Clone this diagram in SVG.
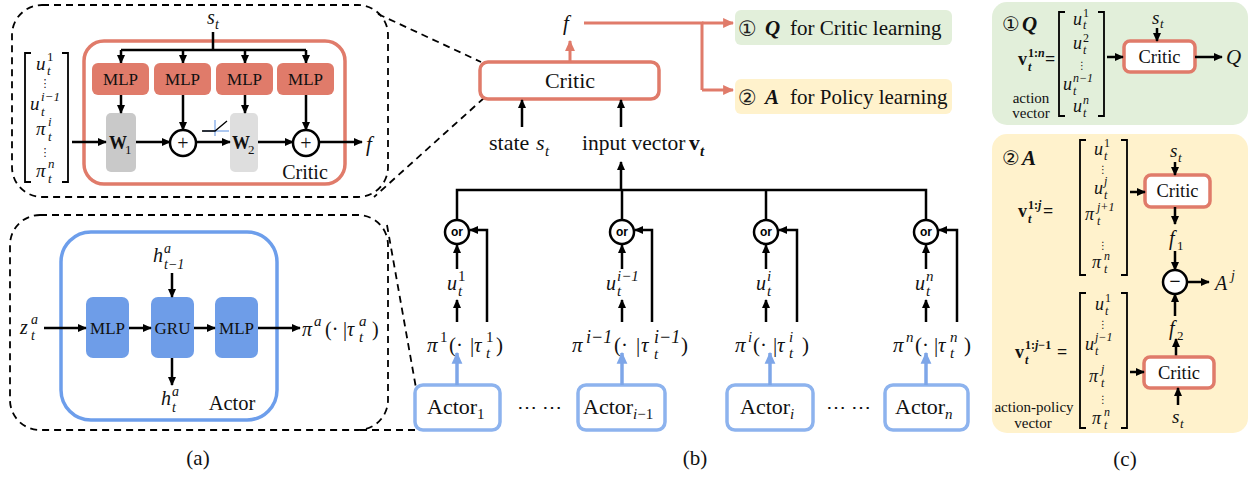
<svg xmlns="http://www.w3.org/2000/svg" width="1250" height="478" viewBox="0 0 1250 478">
<style>
.t{font-family:"Liberation Serif","Times New Roman",serif;fill:#111}
.i{font-style:italic}
.b{font-weight:bold}
.c{text-anchor:middle}
.dots{font-family:"DejaVu Sans",sans-serif;fill:#111;text-anchor:middle}
.ar{stroke:#000;stroke-width:2.5;fill:none;marker-end:url(#ab)}
.ln{stroke:#000;stroke-width:2.5;fill:none}
.dash{stroke:#000;stroke-width:1.8;fill:none;stroke-dasharray:7 5}
.brk{stroke:#000;stroke-width:1.8;fill:none}
.crit{fill:#fff;stroke:#E07B6A;stroke-width:3.5}
.mlpr{fill:#E07B6A}
.mlpb{fill:#6E9DE8}
.actb{fill:#fff;stroke:#8DB3EE;stroke-width:3.5}
.sal{stroke:#E07B6A;stroke-width:3;fill:none}
.salar{stroke:#E07B6A;stroke-width:3;fill:none;marker-end:url(#as)}
.blar{stroke:#7EA6E8;stroke-width:3.5;fill:none;marker-end:url(#abl)}
.circ{fill:#fff;stroke:#000;stroke-width:2.5}
.or{font-family:"Liberation Sans",Arial,sans-serif;font-weight:bold;font-size:12px;text-anchor:middle;fill:#000}
</style>
<defs>
<marker id="ab" viewBox="0 0 10 10" refX="9" refY="5" markerWidth="9" markerHeight="9" markerUnits="userSpaceOnUse" orient="auto"><path d="M0,0.5L10,5L0,9.5z" fill="#000"/></marker>
<marker id="as" viewBox="0 0 10 10" refX="9" refY="5" markerWidth="11" markerHeight="11" markerUnits="userSpaceOnUse" orient="auto"><path d="M0,0.5L10,5L0,9.5z" fill="#E07B6A"/></marker>
<marker id="abl" viewBox="0 0 10 10" refX="9" refY="5" markerWidth="12" markerHeight="12" markerUnits="userSpaceOnUse" orient="auto"><path d="M0,0.5L10,5L0,9.5z" fill="#7EA6E8"/></marker>
</defs>
<rect width="1250" height="478" fill="#fff"/>

<!-- ============ (a) top: critic detail ============ -->
<g id="a-critic-detail">
<rect class="dash" x="12" y="5" width="376" height="192" rx="30"/>
<path class="brk" d="M31,53H25V182H31M62,53H68V182H62"/>
<text class="t i" font-size="19" x="36" y="70">u</text>
<text class="t" font-size="13" x="47" y="61">1</text>
<text class="t i" font-size="13" x="47" y="75">t</text>
<text class="dots" font-size="11" x="45" y="87">⋮</text>
<text class="t i" font-size="19" x="30" y="110">u</text>
<text class="t i" font-size="13" x="41" y="101">i−1</text>
<text class="t i" font-size="13" x="41" y="116">t</text>
<text class="t i" font-size="19" x="36" y="135">π</text>
<text class="t i" font-size="13" x="48" y="126">i</text>
<text class="t i" font-size="13" x="48" y="141">t</text>
<text class="dots" font-size="11" x="45" y="156">⋮</text>
<text class="t i" font-size="19" x="36" y="177">π</text>
<text class="t i" font-size="13" x="48" y="168">n</text>
<text class="t i" font-size="13" x="48" y="183">t</text>

<rect x="84" y="41" width="261" height="143" rx="20" fill="none" stroke="#E07B6A" stroke-width="3.5"/>
<text class="t i" font-size="20" x="207" y="24">s</text>
<text class="t i" font-size="14" x="215" y="29">t</text>
<path class="ln" d="M213,32V50M121,50H306"/>
<line class="ar" x1="121" y1="50" x2="121" y2="63"/>
<line class="ar" x1="183" y1="50" x2="183" y2="63"/>
<line class="ar" x1="245" y1="50" x2="245" y2="63"/>
<line class="ar" x1="306" y1="50" x2="306" y2="63"/>
<g id="a-mlp1"><rect class="mlpr" x="92" y="63" width="57" height="32" rx="6"/><text class="t c" font-size="17" x="120.5" y="85">MLP</text></g>
<g id="a-mlp2"><rect class="mlpr" x="154" y="63" width="57" height="32" rx="6"/><text class="t c" font-size="17" x="182.5" y="85">MLP</text></g>
<g id="a-mlp3"><rect class="mlpr" x="216" y="63" width="57" height="32" rx="6"/><text class="t c" font-size="17" x="244.5" y="85">MLP</text></g>
<g id="a-mlp4"><rect class="mlpr" x="277" y="63" width="57" height="32" rx="6"/><text class="t c" font-size="17" x="305.5" y="85">MLP</text></g>
<g id="a-w1"><rect x="106" y="113" width="30" height="59" rx="5" fill="#C9C9C9"/><text class="t b" font-size="18" x="109" y="149">W</text><text class="t" font-size="13" x="125" y="154">1</text></g>
<g id="a-w2"><rect x="230" y="113" width="28" height="59" rx="5" fill="#DEDEDE"/><text class="t b" font-size="18" x="232" y="149">W</text><text class="t" font-size="13" x="248" y="154">2</text></g>
<g id="a-plus1"><circle class="circ" cx="183" cy="143" r="13"/><text class="t c" font-size="20" x="183" y="150">+</text></g>
<g id="a-plus2"><circle class="circ" cx="306" cy="143" r="13"/><text class="t c" font-size="20" x="306" y="150">+</text></g>
<line class="ar" x1="72" y1="142" x2="106" y2="142"/>
<line class="ar" x1="121" y1="95" x2="121" y2="113"/>
<line class="ar" x1="136" y1="142" x2="170" y2="142"/>
<line class="ar" x1="183" y1="95" x2="183" y2="130"/>
<line class="ar" x1="196" y1="142" x2="230" y2="142"/>
<line class="ar" x1="245" y1="95" x2="245" y2="113"/>
<line class="ar" x1="258" y1="142" x2="293" y2="142"/>
<line class="ar" x1="306" y1="95" x2="306" y2="130"/>
<line class="ar" x1="319" y1="142" x2="362" y2="142"/>
<g id="a-relu">
<path d="M215,120V136M203,131H229" stroke="#5B8FE0" stroke-width="1" fill="none"/>
<path d="M202,131H215L227,121" stroke="#000" stroke-width="1.3" fill="none"/>
</g>
<text class="t i" font-size="21" x="366" y="151">f</text>
<text class="t c" font-size="20" x="305" y="179">Critic</text>
</g>

<!-- ============ (a) bottom: actor detail ============ -->
<g id="a-actor-detail">
<rect class="dash" x="10" y="215" width="378" height="215" rx="30"/>
<rect x="61" y="232" width="216" height="188" rx="30" fill="none" stroke="#6D9EEB" stroke-width="3.5"/>
<g id="a-amlp1"><rect class="mlpb" x="86" y="297" width="43" height="61" rx="7"/><text class="t c" font-size="17" x="107.5" y="334">MLP</text></g>
<g id="a-gru"><rect class="mlpb" x="151" y="297" width="43" height="61" rx="7"/><text class="t c" font-size="17" x="172.5" y="334">GRU</text></g>
<g id="a-amlp2"><rect class="mlpb" x="215" y="297" width="43" height="61" rx="7"/><text class="t c" font-size="17" x="236.5" y="334">MLP</text></g>
<text class="t i" font-size="20" x="20" y="334">z</text>
<text class="t i" font-size="14" x="31" y="324">a</text>
<text class="t i" font-size="14" x="31" y="340">t</text>
<line class="ar" x1="44" y1="328" x2="86" y2="328"/>
<line class="ar" x1="129" y1="328" x2="151" y2="328"/>
<line class="ar" x1="194" y1="328" x2="215" y2="328"/>
<line class="ar" x1="258" y1="328" x2="300" y2="328"/>
<text class="t i" font-size="20" x="153" y="262">h</text>
<text class="t i" font-size="14" x="164" y="253">a</text>
<text class="t i" font-size="14" x="164" y="269">t−1</text>
<line class="ar" x1="172" y1="273" x2="172" y2="297"/>
<line class="ar" x1="172" y1="358" x2="172" y2="385"/>
<text class="t i" font-size="20" x="161" y="405">h</text>
<text class="t i" font-size="14" x="172" y="396">a</text>
<text class="t i" font-size="14" x="172" y="412">t</text>
<text class="t" font-size="20"><tspan class="i" x="302" y="336">π</tspan><tspan class="i" font-size="15" x="314" y="326">a</tspan><tspan x="325" y="336">(·</tspan><tspan x="343" y="336">|</tspan><tspan class="i" x="347" y="336">τ</tspan><tspan class="i" font-size="15" x="359" y="326">a</tspan><tspan class="i" font-size="15" x="359" y="342">t</tspan><tspan x="372" y="336">)</tspan></text>
<text class="t c" font-size="20.5" x="232" y="410">Actor</text>
</g>

<!-- dashed zoom guides -->
<g id="guides">
<line class="dash" x1="378" y1="14" x2="481" y2="62"/>
<line class="dash" x1="484" y1="98" x2="374" y2="197"/>
<line class="dash" x1="387" y1="225" x2="416" y2="388"/>
<line class="dash" x1="360" y1="430" x2="416" y2="430"/>
</g>

<!-- ============ (b) ============ -->
<g id="b-critic"><rect class="crit" x="480" y="62" width="179" height="37" rx="8"/><text class="t c" font-size="22" x="570" y="88">Critic</text></g>
<g id="b-q-box"><rect x="735" y="10" width="217" height="35" rx="6" fill="#E2EFDA"/>
<text font-family="DejaVu Sans,sans-serif" font-size="21" x="738" y="36" fill="#222">①</text>
<text class="t i b" font-size="21" x="765" y="35">Q</text>
<text class="t" font-size="21" x="790" y="35">for Critic learning</text></g>
<g id="b-a-box"><rect x="735" y="79" width="217" height="35" rx="6" fill="#FFF2CC"/>
<text font-family="DejaVu Sans,sans-serif" font-size="21" x="738" y="105" fill="#222">②</text>
<text class="t i b" font-size="21" x="765" y="104">A</text>
<text class="t" font-size="21" x="790" y="104">for Policy learning</text></g>
<text class="t i" font-size="21" x="563" y="30">f</text>
<text class="t" font-size="22" x="489" y="150">state</text>
<text class="t i" font-size="22" x="536" y="150">s</text>
<text class="t i" font-size="15" x="545" y="156">t</text>
<text class="t" font-size="21.5" x="582" y="150">input vector</text>
<text class="t b" font-size="21.5" x="689" y="150">v</text>
<text class="t i b" font-size="15" x="700" y="156">t</text>

<g id="b-or1"><circle class="circ" cx="457" cy="232" r="12"/><text class="or" x="457" y="236">or</text></g>
<g id="b-or2"><circle class="circ" cx="622" cy="232" r="12"/><text class="or" x="622" y="236">or</text></g>
<g id="b-or3"><circle class="circ" cx="766" cy="232" r="12"/><text class="or" x="766" y="236">or</text></g>
<g id="b-or4"><circle class="circ" cx="926" cy="232" r="12"/><text class="or" x="926" y="236">or</text></g>

<g id="b-actor1"><rect class="actb" x="415" y="385" width="85" height="45" rx="8"/><text class="t" font-size="22" x="427" y="414">Actor<tspan font-size="15" dy="5">1</tspan></text></g>
<g id="b-actor-im1"><rect class="actb" x="578" y="385" width="87" height="45" rx="8"/><text class="t" font-size="22" x="583" y="414">Actor<tspan class="i" font-size="15" dy="5">i</tspan><tspan font-size="15">−1</tspan></text></g>
<g id="b-actor-i"><rect class="actb" x="727" y="385" width="86" height="45" rx="8"/><text class="t" font-size="22" x="740" y="414">Actor<tspan class="i" font-size="15" dy="5">i</tspan></text></g>
<g id="b-actor-n"><rect class="actb" x="885" y="385" width="83" height="45" rx="8"/><text class="t" font-size="22" x="895" y="414">Actor<tspan class="i" font-size="15" dy="5">n</tspan></text></g>
<text class="t c" font-size="20" x="539" y="414">⋯ ⋯</text>
<text class="t c" font-size="20" x="848" y="414">⋯ ⋯</text>

<!-- u labels -->
<text class="t i" font-size="20" x="447" y="290">u</text><text class="t" font-size="15" x="458" y="281">1</text><text class="t i" font-size="15" x="458" y="296">t</text>
<text class="t i" font-size="20" x="606" y="290">u</text><text class="t i" font-size="15" x="617" y="281">i−1</text><text class="t i" font-size="15" x="617" y="296">t</text>
<text class="t i" font-size="20" x="756" y="290">u</text><text class="t i" font-size="15" x="767" y="281">i</text><text class="t i" font-size="15" x="767" y="296">t</text>
<text class="t i" font-size="20" x="915" y="290">u</text><text class="t i" font-size="15" x="926" y="281">n</text><text class="t i" font-size="15" x="926" y="296">t</text>

<!-- pi labels -->
<text class="t" font-size="21"><tspan class="i" x="427" y="352">π</tspan><tspan font-size="15" x="440" y="342">1</tspan><tspan x="449" y="352">(·</tspan><tspan x="470" y="352">|</tspan><tspan class="i" x="474" y="352">τ</tspan><tspan font-size="15" x="486" y="342">1</tspan><tspan class="i" font-size="15" x="486" y="358">t</tspan><tspan x="496" y="352">)</tspan></text>
<text class="t" font-size="21"><tspan class="i" x="572" y="352">π</tspan><tspan class="i" font-size="18" x="586" y="343">i−1</tspan><tspan x="614" y="352">(·</tspan><tspan x="636" y="352">|</tspan><tspan class="i" x="641" y="352">τ</tspan><tspan class="i" font-size="18" x="654" y="343">i−1</tspan><tspan class="i" font-size="15" x="654" y="359">t</tspan><tspan x="681" y="352">)</tspan></text>
<text class="t" font-size="21"><tspan class="i" x="735" y="352">π</tspan><tspan class="i" font-size="15" x="748" y="342">i</tspan><tspan x="753" y="352">(·</tspan><tspan x="773" y="352">|</tspan><tspan class="i" x="777" y="352">τ</tspan><tspan class="i" font-size="15" x="789" y="342">i</tspan><tspan class="i" font-size="15" x="789" y="358">t</tspan><tspan x="802" y="352">)</tspan></text>
<text class="t" font-size="21"><tspan class="i" x="893" y="352">π</tspan><tspan class="i" font-size="15" x="906" y="342">n</tspan><tspan x="915" y="352">(·</tspan><tspan x="934" y="352">|</tspan><tspan class="i" x="938" y="352">τ</tspan><tspan class="i" font-size="15" x="950" y="342">n</tspan><tspan class="i" font-size="15" x="950" y="358">t</tspan><tspan x="964" y="352">)</tspan></text>

<g id="b-connectors">
<line class="salar" x1="570" y1="62" x2="570" y2="41"/>
<path class="sal" d="M584,23H702V90"/>
<line class="salar" x1="702" y1="23" x2="733" y2="23"/>
<line class="salar" x1="702" y1="90" x2="733" y2="90"/>
<line class="ar" x1="522" y1="127" x2="522" y2="100"/>
<line class="ar" x1="621" y1="127" x2="621" y2="100"/>
<line class="ar" x1="621" y1="190" x2="621" y2="162"/>
<path class="ln" d="M457,220V190H926V220M622,190V220M766,190V220"/>
<path class="ar" d="M487,322V230H470"/>
<path class="ar" d="M652,322V230H635"/>
<path class="ar" d="M797,322V230H779"/>
<path class="ar" d="M957,322V230H939"/>
<line class="ar" x1="457" y1="269" x2="457" y2="245"/>
<line class="ar" x1="622" y1="269" x2="622" y2="245"/>
<line class="ar" x1="766" y1="269" x2="766" y2="245"/>
<line class="ar" x1="926" y1="269" x2="926" y2="245"/>
<line class="ar" x1="457" y1="322" x2="457" y2="300"/>
<line class="ar" x1="622" y1="322" x2="622" y2="300"/>
<line class="ar" x1="766" y1="322" x2="766" y2="300"/>
<line class="ar" x1="926" y1="322" x2="926" y2="300"/>
<line class="blar" x1="457" y1="385" x2="457" y2="353"/>
<line class="blar" x1="622" y1="385" x2="622" y2="353"/>
<line class="blar" x1="770" y1="385" x2="770" y2="353"/>
<line class="blar" x1="926" y1="385" x2="926" y2="353"/>
</g>

<!-- ============ (c) ============ -->
<g id="c-q-panel">
<rect x="992" y="2" width="256" height="123" rx="15" fill="#E2EFDA"/>
<text font-family="DejaVu Sans,sans-serif" font-size="20" x="1002" y="31" fill="#111">①</text>
<text class="t i b" font-size="21" x="1022" y="31">Q</text>
<text class="t b" font-size="18" x="1018" y="65">v</text>
<text class="t b" font-size="12" x="1028" y="57">1:<tspan class="i">n</tspan></text>
<text class="t b i" font-size="12" x="1028" y="71">t</text>
<text class="t b" font-size="18" x="1045" y="65">=</text>
<text class="t c" font-size="15" x="1031" y="103">action</text>
<text class="t c" font-size="15" x="1031" y="118">vector</text>
<path class="brk" d="M1065,12H1059V116H1065M1098,12H1104V116H1098"/>
<text class="t i" font-size="18" x="1073" y="25">u</text><text class="t" font-size="12" x="1083" y="17">1</text><text class="t i" font-size="12" x="1083" y="29">t</text>
<text class="t i" font-size="18" x="1073" y="49">u</text><text class="t" font-size="12" x="1083" y="42">2</text><text class="t i" font-size="12" x="1083" y="54">t</text>
<text class="dots" font-size="10" x="1082" y="69">⋮</text>
<text class="t i" font-size="18" x="1063" y="90">u</text><text class="t i" font-size="12" x="1073" y="82">n−1</text><text class="t i" font-size="12" x="1073" y="95">t</text>
<text class="t i" font-size="18" x="1073" y="112">u</text><text class="t i" font-size="12" x="1083" y="104">n</text><text class="t i" font-size="12" x="1083" y="117">t</text>
<g id="c-critic-q"><rect class="crit" x="1124" y="41" width="71" height="31" rx="6"/><text class="t c" font-size="18.5" x="1159.5" y="63">Critic</text></g>
<text class="t i" font-size="19" x="1152" y="24">s</text><text class="t i" font-size="13" x="1160" y="28">t</text>
<line class="ar" x1="1157" y1="28" x2="1157" y2="41"/>
<line class="ar" x1="1107" y1="57" x2="1123" y2="57"/>
<line class="ar" x1="1195" y1="57" x2="1222" y2="57"/>
<text class="t i" font-size="21" x="1226" y="64">Q</text>
</g>

<g id="c-a-panel">
<rect x="992" y="134" width="256" height="299" rx="15" fill="#FFF2CC"/>
<text font-family="DejaVu Sans,sans-serif" font-size="20" x="1002" y="165" fill="#111">②</text>
<text class="t i b" font-size="21" x="1022" y="165">A</text>
<text class="t b" font-size="18" x="1018" y="217">v</text>
<text class="t b" font-size="12" x="1028" y="209">1:<tspan class="i">j</tspan></text>
<text class="t b i" font-size="12" x="1028" y="223">t</text>
<text class="t b" font-size="18" x="1043" y="217">=</text>
<path class="brk" d="M1086,140H1080V275H1086M1121,140H1127V275H1121"/>
<text class="t i" font-size="18" x="1094" y="155">u</text><text class="t" font-size="12" x="1104" y="147">1</text><text class="t i" font-size="12" x="1104" y="160">t</text>
<text class="dots" font-size="10" x="1103" y="173">⋮</text>
<text class="t i" font-size="18" x="1094" y="194">u</text><text class="t i" font-size="12" x="1104" y="185">j</text><text class="t i" font-size="12" x="1104" y="199">t</text>
<text class="t i" font-size="18" x="1085" y="220">π</text><text class="t i" font-size="12" x="1097" y="211">j+1</text><text class="t i" font-size="12" x="1097" y="225">t</text>
<text class="dots" font-size="10" x="1103" y="249">⋮</text>
<text class="t i" font-size="18" x="1092" y="268">π</text><text class="t i" font-size="12" x="1104" y="260">n</text><text class="t i" font-size="12" x="1104" y="273">t</text>
<g id="c-critic-a1"><rect class="crit" x="1145" y="175" width="65" height="32" rx="6"/><text class="t c" font-size="18.5" x="1177.5" y="197">Critic</text></g>
<text class="t i" font-size="19" x="1170" y="157">s</text><text class="t i" font-size="13" x="1178" y="162">t</text>
<line class="ar" x1="1175" y1="162" x2="1175" y2="175"/>
<line class="ar" x1="1130" y1="192" x2="1145" y2="192"/>
<line class="ar" x1="1175" y1="207" x2="1175" y2="224"/>
<text class="t i" font-size="20" x="1169" y="245">f</text><text class="t" font-size="13" x="1177" y="250">1</text>
<line class="ar" x1="1175" y1="251" x2="1175" y2="270"/>
<g id="c-minus"><circle class="circ" cx="1175" cy="282" r="12"/><text class="t c b" font-size="20" x="1175" y="288">−</text></g>
<line class="ar" x1="1187" y1="282" x2="1209" y2="282"/>
<text class="t i" font-size="20" x="1215" y="290">A</text><text class="t i" font-size="14" x="1231" y="280">j</text>
<text class="t i" font-size="20" x="1169" y="335">f</text><text class="t" font-size="13" x="1177" y="340">2</text>
<line class="ar" x1="1175" y1="316" x2="1175" y2="294"/>
<line class="ar" x1="1176" y1="357" x2="1176" y2="339"/>
<g id="c-critic-a2"><rect class="crit" x="1144" y="357" width="70" height="31" rx="6"/><text class="t c" font-size="18.5" x="1179" y="379">Critic</text></g>
<line class="ar" x1="1178" y1="405" x2="1178" y2="388"/>
<text class="t i" font-size="19" x="1172" y="423">s</text><text class="t i" font-size="13" x="1180" y="428">t</text>
<text class="t b" font-size="18" x="1015" y="358">v</text>
<text class="t b" font-size="12" x="1025" y="349">1:<tspan class="i">j</tspan>−1</text>
<text class="t b i" font-size="12" x="1025" y="364">t</text>
<text class="t b" font-size="18" x="1057" y="358">=</text>
<path class="brk" d="M1086,293H1080V428H1086M1121,293H1127V428H1121"/>
<text class="t i" font-size="18" x="1095" y="310">u</text><text class="t" font-size="12" x="1105" y="302">1</text><text class="t i" font-size="12" x="1105" y="315">t</text>
<text class="dots" font-size="10" x="1103" y="328">⋮</text>
<text class="t i" font-size="18" x="1085" y="350">u</text><text class="t i" font-size="12" x="1095" y="341">j−1</text><text class="t i" font-size="12" x="1095" y="355">t</text>
<text class="t i" font-size="18" x="1089" y="382">π</text><text class="t i" font-size="12" x="1101" y="373">j</text><text class="t i" font-size="12" x="1101" y="387">t</text>
<text class="dots" font-size="10" x="1103" y="403">⋮</text>
<text class="t i" font-size="18" x="1092" y="424">π</text><text class="t i" font-size="12" x="1104" y="416">n</text><text class="t i" font-size="12" x="1104" y="429">t</text>
<line class="ar" x1="1130" y1="372" x2="1144" y2="372"/>
<text class="t c" font-size="15" x="1034" y="412">action-policy</text>
<text class="t c" font-size="15" x="1033" y="428">vector</text>
</g>

<!-- captions -->
<text class="t c" font-size="21" x="198" y="465">(a)</text>
<text class="t c" font-size="21" x="695" y="465">(b)</text>
<text class="t c" font-size="21" x="1125" y="466">(c)</text>
</svg>
